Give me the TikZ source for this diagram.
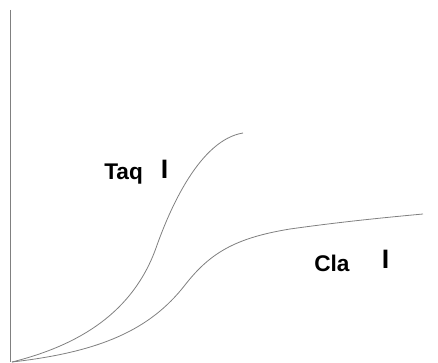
\documentclass[tikz,border=0pt]{standalone}
\usepackage{fontspec}
\setmainfont{Liberation Sans}
\usetikzlibrary{positioning}

\begin{document}
\begin{tikzpicture}
        [x=0.75pt,y=-0.75pt,curve/.style={gray,line width=0.6pt},
         label/.style={font=\fontsize{17}{20}\selectfont\bfseries,anchor=base west,inner sep=0pt},
         biglabel/.style={label,font=\fontsize{20}{24}\selectfont\bfseries}]

        \useasboundingbox (0,0) rectangle (438,363);

        % axis
        \draw[curve] (10,10) -- (10,362);

        % Taq I
        \draw[curve] (12,362) .. controls (80,345) and (133,312) .. (156,248)
                              .. controls (170,208) and (200,140) .. (243,133);
        \node[label] (taq) at (104,180) {Taq};
        \node[biglabel] (taqI) at (160.5,179) {I};

        % Cla I
        \draw[curve] (12,362) .. controls (100,352) and (150,330) .. (185,285)
                              .. controls (210,253) and (235,238) .. (290,229)
                              .. controls (340,222) and (380,218) .. (423,214);
        \node[label] (cla) at (314,271.5) {Cla};
        \node[biglabel] (claI) at (381.5,268) {I};

\end{tikzpicture}
\end{document}
